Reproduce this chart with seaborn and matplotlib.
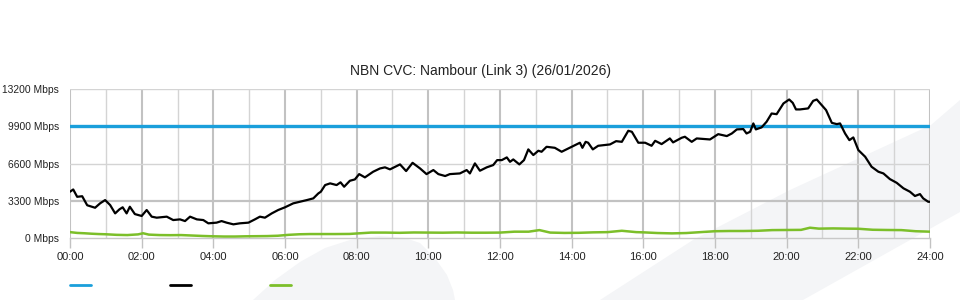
import matplotlib
matplotlib.use("Agg")
import matplotlib.pyplot as plt
from matplotlib.patches import Polygon
from matplotlib.lines import Line2D
import seaborn as sns
import pandas as pd
import numpy as np

sns.set_theme(style="white")
plt.rcParams['font.family'] = ['Liberation Sans', 'DejaVu Sans']

title = "NBN CVC: Nambour (Link 3) (26/01/2026)"
capacity = 9900

traffic_hours = [0.00, 0.09, 0.20, 0.34, 0.48, 0.70, 0.84, 0.98, 1.12, 1.26, 1.38, 1.47, 1.58, 1.67, 1.81,
                 2.00, 2.14, 2.28, 2.42, 2.70, 2.88, 3.07, 3.21, 3.35, 3.54, 3.72, 3.86, 4.09, 4.23, 4.37,
                 4.56, 4.74, 4.98, 5.16, 5.30, 5.44, 5.63, 5.81, 6.00, 6.23, 6.42, 6.61, 6.79, 6.93, 7.00,
                 7.12, 7.26, 7.44, 7.55, 7.65, 7.81, 7.95, 8.07, 8.23, 8.46, 8.65, 8.79, 8.93, 9.21, 9.38,
                 9.56, 9.77, 9.95, 10.14, 10.28, 10.47, 10.60, 10.88, 11.07, 11.16, 11.30, 11.44, 11.63,
                 11.81, 11.92, 12.05, 12.19, 12.28, 12.37, 12.54, 12.67, 12.79, 12.93, 13.07, 13.16, 13.30,
                 13.53, 13.72, 13.91, 14.09, 14.23, 14.30, 14.39, 14.46, 14.59, 14.74, 15.07, 15.24, 15.40,
                 15.58, 15.68, 15.86, 16.05, 16.23, 16.33, 16.51, 16.74, 16.83, 17.07, 17.16, 17.35, 17.49,
                 17.86, 18.09, 18.33, 18.47, 18.61, 18.79, 18.88, 18.98, 19.07, 19.14, 19.30, 19.44, 19.58,
                 19.72, 19.91, 20.07, 20.17, 20.26, 20.37, 20.60, 20.74, 20.84, 20.98, 21.10, 21.26, 21.40,
                 21.49, 21.63, 21.75, 21.86, 22.00, 22.19, 22.37, 22.56, 22.70, 22.88, 23.07, 23.26, 23.44,
                 23.58, 23.72, 23.81, 23.95, 24.00]
traffic_mbps = [4100, 4300, 3650, 3700, 2900, 2680, 3070, 3360, 2920, 2180, 2540, 2720, 2180, 2770, 2120,
                1950, 2480, 1890, 1800, 1890, 1590, 1650, 1500, 1890, 1650, 1590, 1300, 1360, 1500, 1360,
                1210, 1300, 1360, 1650, 1890, 1800, 2180, 2480, 2720, 3070, 3210, 3360, 3510, 3950, 4100,
                4690, 4840, 4690, 4930, 4540, 5070, 5190, 5660, 5370, 5870, 6160, 6260, 6080, 6520, 5930,
                6660, 6160, 5660, 6020, 5660, 5490, 5660, 5720, 6020, 5720, 6610, 5960, 6260,
                6460, 6900, 6900, 7140, 6750, 6960, 6520, 6900, 7850, 7350, 7730, 7640, 8080,
                7990, 7640, 7940, 8230, 8440, 7990, 8520, 8440, 7850, 8170, 8290, 8580, 8520,
                9500, 9410, 8440, 8440, 8170, 8610, 8320, 8820, 8470, 8880, 8970, 8520, 8820,
                8730, 9200, 9030, 9260, 9620, 9650, 9260, 9410, 10150, 9620, 9800, 10300, 11030,
                10970, 11920, 12270, 11970, 11390, 11390, 11480, 12150, 12270, 11770, 11330, 10200, 10090,
                10150, 9260, 8670, 8910, 7790, 7200, 6310, 5870, 5720, 5220, 4890, 4400, 4100,
                3720, 3890, 3510, 3210, 3210]

green_hours = [0.00, 0.20, 0.40, 0.60, 0.80, 1.00, 1.30, 1.60, 1.90, 2.04, 2.20, 2.50, 2.80, 3.10, 3.40,
               3.70, 4.00, 4.30, 4.60, 4.90, 5.20, 5.50, 5.80, 6.10, 6.40, 6.70, 7.00, 7.40, 7.80, 8.10,
               8.40, 8.80, 9.20, 9.60, 10.00, 10.40, 10.80, 11.20, 11.60, 12.00, 12.40, 12.80, 13.10,
               13.40, 13.80, 14.20, 14.60, 15.00, 15.40, 15.80, 16.00, 16.40, 16.80, 17.20, 17.60, 18.00,
               18.40, 18.80, 19.20, 19.60, 20.00, 20.40, 20.65, 20.90, 21.30, 21.70, 22.00, 22.40, 22.80,
               23.20, 23.60, 24.00]
green_mbps = [520, 450, 420, 380, 350, 330, 280, 260, 320, 420, 300, 260, 250, 260, 220,
              180, 150, 130, 130, 150, 160, 170, 200, 280, 330, 350, 350, 350, 360, 420,
              480, 480, 460, 490, 480, 470, 490, 470, 470, 480, 560, 560, 700,
              480, 450, 460, 500, 520, 640, 520, 500, 440, 410, 440, 520, 600,
              620, 620, 640, 700, 710, 720, 910, 830, 850, 830, 820, 730, 710,
              700, 600, 560]

yticks = [0, 3300, 6600, 9900, 13200]
xtick_hours = list(range(0, 25, 2))
xtick_labels = [f"{h:02d}:00" for h in xtick_hours]

W, H = 960, 300
fig = plt.figure(figsize=(9.6, 3.0), dpi=100)
fig.patch.set_facecolor("white")

def px(pts):
    return [(x / W, 1 - y / H) for x, y in pts]

wm = "#f4f5f7"
band = [(960, 100), (931, 125), (790, 190), (693, 240), (600, 300), (803, 300), (960, 212)]
blob = [(253, 300), (275, 280), (300, 262), (325, 248), (350, 240), (380, 236), (405, 238),
        (420, 243), (435, 258), (447, 275), (453, 290), (455, 300)]
for shape in (band, blob):
    fig.patches.append(Polygon(px(shape), closed=True, transform=fig.transFigure,
                               facecolor=wm, edgecolor="none", zorder=0))

ax = fig.add_axes([70 / W, 1 - 238 / H, 860 / W, 149 / H])
ax.set_zorder(2)
ax.patch.set_alpha(0)

df_t = pd.DataFrame({"hour": traffic_hours, "mbps": traffic_mbps})
df_g = pd.DataFrame({"hour": green_hours, "mbps": green_mbps})

sns.lineplot(data=df_g, x="hour", y="mbps", ax=ax, color="#7cbf2a", linewidth=1.8, zorder=3)
ax.axhline(capacity, color="#1a9fdb", linewidth=2.4, zorder=4)
sns.lineplot(data=df_t, x="hour", y="mbps", ax=ax, color="black", linewidth=1.6, zorder=5)

ax.set_xlim(0, 24)
ax.set_ylim(0, 13200)
ax.set_xlabel("")
ax.set_ylabel("")

for h in range(0, 25):
    if h % 2 == 0:
        ax.axvline(h, color="#c2c2c2", linewidth=1.5, zorder=1)
    else:
        ax.axvline(h, color="#d4d4d4", linewidth=1.0, zorder=1)
for v in yticks[1:]:
    if v == 3300:
        ax.axhline(v, color="#c2c2c2", linewidth=1.6, zorder=1)
    else:
        ax.axhline(v, color="#d4d4d4", linewidth=1.0, zorder=1)

ax.set_xticks(xtick_hours)
ax.set_xticklabels(xtick_labels, fontsize=8, color="#222222")
ax.set_yticks(yticks)
ax.set_yticklabels([f"{v} Mbps" for v in yticks], fontsize=7.4, color="#222222")
ax.tick_params(axis="x", length=7, width=1, color="#c2c2c2", pad=3, bottom=True)
ax.tick_params(axis="y", length=0, pad=8)

for s in ("top", "right", "left"):
    ax.spines[s].set_visible(False)
ax.spines["bottom"].set_color("#c8c8c8")
ax.spines["bottom"].set_linewidth(1.0)

fig.text(480 / W, 1 - 71 / H, title, ha="center", va="center", fontsize=10, color="#222222")

legend_colors = ["#1a9fdb", "black", "#7cbf2a"]
for i, c in enumerate(legend_colors):
    x0 = 70 + 100 * i
    fig.add_artist(Line2D([x0 / W, (x0 + 21) / W], [1 - 285 / H, 1 - 285 / H],
                          transform=fig.transFigure, color=c, linewidth=2))

fig.savefig("out.png", dpi=100)
